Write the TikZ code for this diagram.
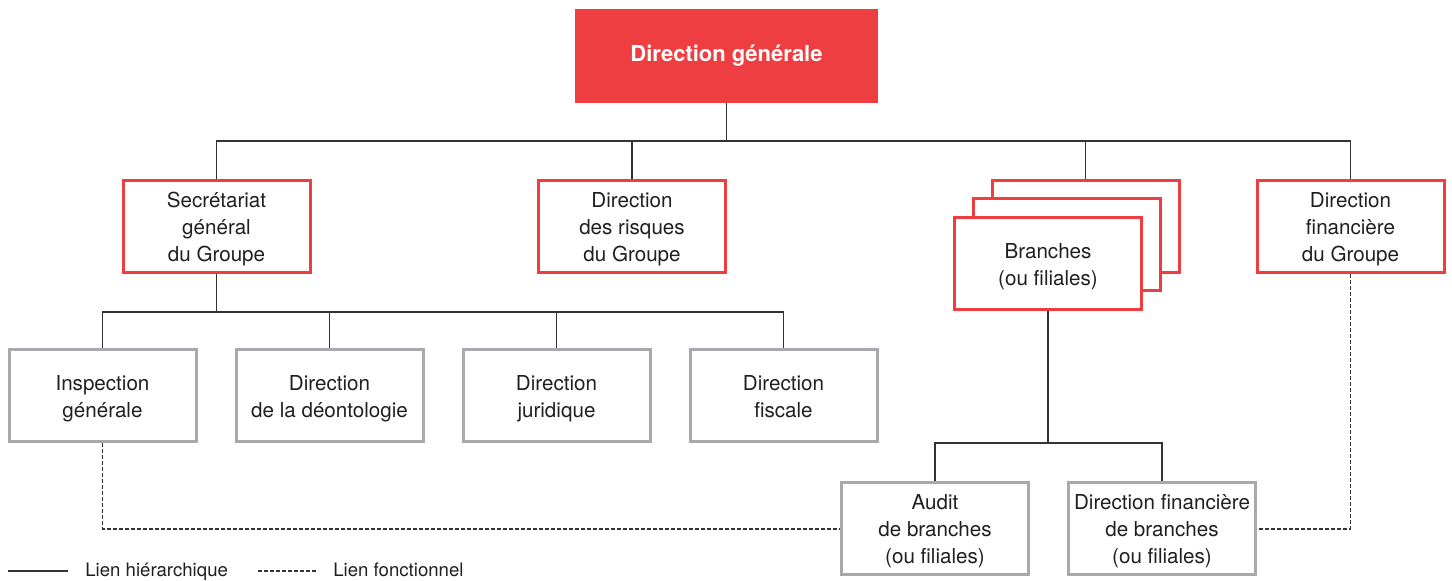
\documentclass[tikz,border=0pt]{standalone}
\usepackage{fontspec}
\setmainfont{TeX Gyre Heros}
\definecolor{dgred}{HTML}{EF3E42}
\definecolor{boxgray}{HTML}{A7A9AC}
\definecolor{linegray}{HTML}{333333}
\definecolor{textgray}{HTML}{231F20}

\begin{document}
\begin{tikzpicture}[x=0.5pt, y=-0.5pt,
		every node/.style={text=textgray, align=center, font=\fontsize{10.3}{13.5}\selectfont},
		redbox/.style={draw=dgred, line width=1.5pt, fill=white, inner sep=0pt, text depth=0pt, minimum width=93.5pt, minimum height=46pt},
		graybox/.style={draw=boxgray, line width=1.5pt, fill=white, inner sep=0pt, text depth=0pt, minimum width=93.5pt, minimum height=46pt},
		hier/.style={draw=linegray, line width=0.7pt},
		fonc/.style={hier, dash pattern=on 1.8pt off 1.2pt},
		legend/.style={anchor=base west, inner sep=0pt, font=\fontsize{9.3}{11}\selectfont}]
		\useasboundingbox (0, 0) rectangle (1452, 581);

		% top
		\node[fill=dgred, text=white, inner sep=0pt, minimum width=151.5pt, minimum height=47pt,
			font=\fontsize{11}{13}\selectfont\bfseries] (dg) at (726.5, 56) {Direction générale};

		% second row
		\node[redbox] (sg) at (216.5, 227) {Secrétariat\\général\\du Groupe};
		\node[redbox] (risques) at (632, 227) {Direction\\des risques\\du Groupe};
		\node[redbox] (br3) at (1085.5, 226.5) {};
		\node[redbox] (br2) at (1066.5, 245) {};
		\node[redbox] (br1) at (1048, 264) {Branches\\(ou filiales)};
		\node[redbox] (dfg) at (1350.5, 227) {Direction\\financière\\du Groupe};

		% third row
		\node[graybox] (insp) at (102.5, 396) {Inspection\\générale};
		\node[graybox] (deonto) at (329.5, 396) {Direction\\de la déontologie};
		\node[graybox] (jur) at (556.5, 396) {Direction\\juridique};
		\node[graybox] (fisc) at (783.5, 396) {Direction\\fiscale};

		% bottom row
		\node[graybox] (audit) at (935, 529) {Audit\\de branches\\(ou filiales)};
		\node[graybox] (dfb) at (1162, 529) {Direction financière\\de branches\\(ou filiales)};

		% buses
		\coordinate (bus1) at (726.5, 141);
		\coordinate (bus2) at (216.5, 312);
		\coordinate (bus3) at (1048, 443);

		\draw[hier] (dg.south) -- (bus1);
		\draw[hier] (bus1) -| (sg.north);
		\draw[hier] (bus1) -| (risques.north);
		\draw[hier] (bus1) -| (br3.north);
		\draw[hier] (bus1) -| (dfg.north);

		\draw[hier] (sg.south) -- (bus2);
		\draw[hier] (bus2) -| (insp.north);
		\draw[hier] (bus2) -| (deonto.north);
		\draw[hier] (bus2) -| (jur.north);
		\draw[hier] (bus2) -| (fisc.north);

		\draw[hier] (br1.south) -- (bus3);
		\draw[hier] (bus3) -| (audit.north);
		\draw[hier] (bus3) -| (dfb.north);

		% functional links
		\draw[fonc] (insp.south) |- (audit.west);
		\draw[fonc] (dfg.south) |- (dfb.east);

		% legend
		\coordinate (hA) at (8, 571);
		\coordinate (fA) at (258, 571);
		\node[legend] (hLabel) at (85, 577) {Lien hiérarchique};
		\node[legend] (fLabel) at (333, 577) {Lien fonctionnel};
		\draw[hier] (hA) -- ++(60, 0);
		\draw[fonc] (fA) -- ++(60, 0);
	\end{tikzpicture}
\end{document}
